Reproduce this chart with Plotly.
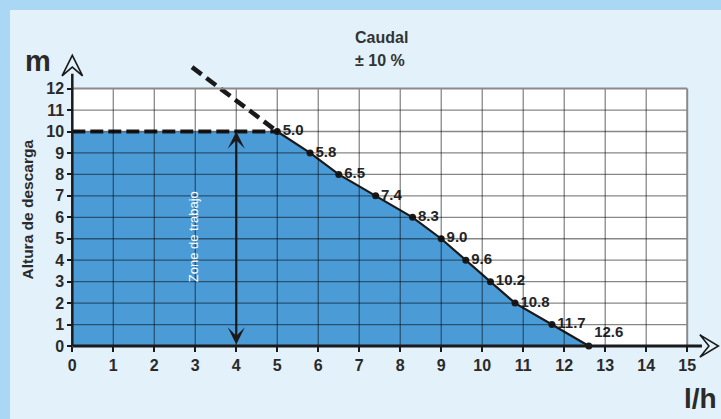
import plotly.graph_objects as go

# ---- data ----
flow = [5.0, 5.8, 6.5, 7.4, 8.3, 9.0, 9.6, 10.2, 10.8, 11.7, 12.6]
head = [10, 9, 8, 7, 6, 5, 4, 3, 2, 1, 0]
flow_labels = ["5.0", "5.8", "6.5", "7.4", "8.3", "9.0", "9.6", "10.2", "10.8", "11.7", "12.6"]
max_head_x = [0.0, 5.0]
max_head_y = [10, 10]
ext_x = [2.92, 5.0]
ext_y = [13.0, 10.0]
x_ticks = list(range(0, 16))
y_ticks = list(range(0, 13))
work_x = 4
work_range = [0, 10]

X_MAX, Y_MAX = 15, 12
XR = [-0.3, 15.8]
YR = [-0.7, 13.8]

OUTER = "#aad8f4"
PANEL = "#e2f1fa"
BLUE = "#4b9bd7"
DARK = "#1a1a1a"
FONT = "Liberation Sans, Arial, sans-serif"

fig = go.Figure()

# filled working region (max head plateau + curve)
fig.add_trace(go.Scatter(
    x=[max_head_x[0]] + flow, y=[max_head_y[0]] + head,
    mode="lines", fill="tozeroy", fillcolor=BLUE,
    line=dict(color="rgba(0,0,0,0)", width=0), hoverinfo="skip", showlegend=False))

# curve
fig.add_trace(go.Scatter(
    x=flow, y=head, mode="lines+markers+text",
    line=dict(color=DARK, width=2.2),
    marker=dict(color=DARK, size=7),
    text=flow_labels,
    textposition=["middle right"] * (len(flow) - 1) + ["top right"],
    textfont=dict(family=FONT, size=15, color="#262626", weight="bold"),
    cliponaxis=False, showlegend=False))

# dashed max head and extrapolation
fig.add_trace(go.Scatter(x=max_head_x, y=max_head_y, mode="lines",
                         line=dict(color=DARK, width=4, dash="13px,5px"), showlegend=False))
fig.add_trace(go.Scatter(x=ext_x, y=ext_y, mode="lines",
                         line=dict(color=DARK, width=4.5, dash="12px,6px"), showlegend=False))

shapes = []
# panel
shapes.append(dict(type="rect", xref="paper", yref="paper", x0=-0.0758, x1=1.2, y0=-0.5, y1=1.1286,
                   fillcolor=PANEL, line=dict(width=0), layer="below"))
# white plot area
shapes.append(dict(type="rect", xref="x", yref="y", x0=0, x1=X_MAX, y0=0, y1=Y_MAX,
                   fillcolor="white", line=dict(width=0), layer="below"))
# grid
gc = "rgba(0,0,0,0.47)"
for xv in x_ticks[1:-1]:
    shapes.append(dict(type="line", xref="x", yref="y", x0=xv, x1=xv, y0=0, y1=Y_MAX,
                       line=dict(color=gc, width=1.3), layer="above"))
for yv in y_ticks[1:-1]:
    shapes.append(dict(type="line", xref="x", yref="y", x0=0, x1=X_MAX, y0=yv, y1=yv,
                       line=dict(color=gc, width=1.3), layer="above"))
# frame top/right
shapes.append(dict(type="line", xref="x", yref="y", x0=0, x1=X_MAX, y0=Y_MAX, y1=Y_MAX,
                   line=dict(color="#8a8a8a", width=2), layer="above"))
shapes.append(dict(type="line", xref="x", yref="y", x0=X_MAX, x1=X_MAX, y0=0, y1=Y_MAX,
                   line=dict(color="#8a8a8a", width=2), layer="above"))
# y axis line + arrow
y_tip, y_back, y_notch, y_hw = 13.55, 12.59, 13.0, 0.25
shapes.append(dict(type="line", xref="x", yref="y", x0=0, x1=0, y0=0, y1=y_back + 0.1,
                   line=dict(color=DARK, width=2.5), layer="above"))
shapes.append(dict(type="path", xref="x", yref="y",
                   path=f"M {-y_hw},{y_back} L 0,{y_tip} L {y_hw},{y_back} L 0,{y_notch} Z",
                   fillcolor=PANEL, line=dict(color=DARK, width=1.6), layer="above"))
# x axis line + arrow
x_tip, x_back, x_notch, x_hh = 15.76, 15.31, 15.53, 0.52
shapes.append(dict(type="line", xref="x", yref="y", x0=0, x1=x_back + 0.05, y0=0, y1=0,
                   line=dict(color=DARK, width=3.2), layer="above"))
shapes.append(dict(type="path", xref="x", yref="y",
                   path=f"M {x_back},{x_hh} L {x_tip},0 L {x_back},{-x_hh} L {x_notch},0 Z",
                   fillcolor=PANEL, line=dict(color=DARK, width=1.6), layer="above"))

TXT = "#2a2a2a"
annotations = [
    dict(x=work_x, y=work_range[1], ax=work_x, ay=work_range[0], xref="x", yref="y",
         axref="x", ayref="y", text="", showarrow=True, arrowhead=3, startarrowhead=3,
         arrowside="end+start", arrowsize=1.3, startarrowsize=1.3, arrowwidth=2.2,
         arrowcolor=DARK, standoff=0, startstandoff=0),
    dict(x=2.95, y=5.08, xref="x", yref="y", text="Zone de trabajo", textangle=-90,
         showarrow=False, xanchor="center", yanchor="middle",
         font=dict(family=FONT, size=13, color="white")),
    dict(x=-0.0485, y=0.487, xref="paper", yref="paper", text="<b>Altura de descarga</b>",
         textangle=-90, showarrow=False, xanchor="center", yanchor="middle",
         font=dict(family=FONT, size=15.5, color=TXT)),
    dict(x=-0.0333, y=0.965, xref="paper", yref="paper", text="<b>m</b>",
         showarrow=False, xanchor="center", yanchor="middle",
         font=dict(family=FONT, size=29, color=TXT)),
    dict(x=0.9712, y=-0.119, xref="paper", yref="paper", text="<b>l/h</b>",
         showarrow=False, xanchor="center", yanchor="middle",
         font=dict(family=FONT, size=28, color=TXT)),
    dict(x=0.4864, y=1.0418, xref="paper", yref="paper", text="<b>Caudal</b>",
         showarrow=False, xanchor="center", yanchor="middle",
         font=dict(family=FONT, size=16, color="#333333")),
    dict(x=0.4848, y=0.9678, xref="paper", yref="paper", text="<b>± 10 %</b>",
         showarrow=False, xanchor="center", yanchor="middle",
         font=dict(family=FONT, size=16, color="#333333")),
]

tickfont = dict(family=FONT, size=16, color=TXT, weight="bold")
fig.update_layout(
    width=721, height=419,
    margin=dict(l=60, r=1, t=50, b=58),
    paper_bgcolor=OUTER, plot_bgcolor="rgba(0,0,0,0)",
    shapes=shapes, annotations=annotations,
    xaxis=dict(range=XR, tickvals=x_ticks, ticktext=[str(v) for v in x_ticks],
               ticks="outside", ticklen=5, tickwidth=2, tickcolor=DARK,
               showgrid=False, zeroline=False, showline=False,
               anchor="free", position=0.7 / 14.5, tickfont=tickfont, automargin=False),
    yaxis=dict(range=YR, tickvals=y_ticks, ticktext=[str(v) for v in y_ticks],
               ticks="outside", ticklen=5, tickwidth=2, tickcolor=DARK,
               showgrid=False, zeroline=False, showline=False,
               anchor="free", position=0.3 / 16.1, tickfont=tickfont, automargin=False),
    showlegend=False,
)

fig.write_html("out.html", config={"displayModeBar": False},
               post_script="document.body.style.margin='0';")
